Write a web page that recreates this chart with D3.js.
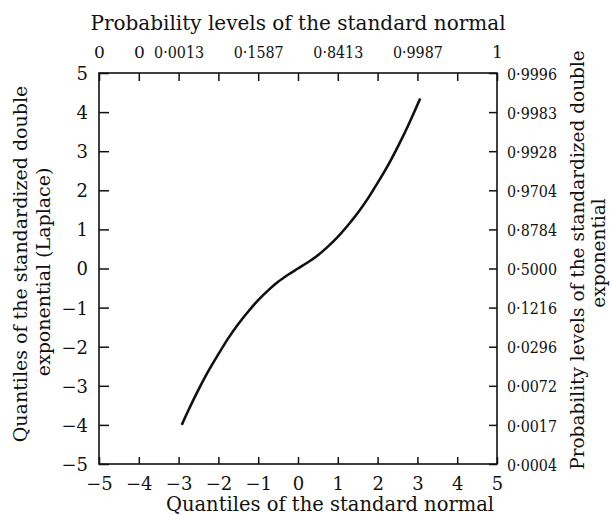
<!DOCTYPE html>
<html lang="en">
<head>
<meta charset="UTF-8">
<script src="https://cdn.jsdelivr.net/npm/d3@7/dist/d3.min.js"></script>
<style>
  body { margin: 0; background: #fff; }
</style>
</head>
<body>
<div id="chart"></div>
<script>
// quantiles
var normQ = [-2.92, -2.75, -2.5, -2.25, -2, -1.75, -1.5, -1.25, -1, -0.75, -0.5, -0.25, 0,
             0.25, 0.5, 0.75, 1, 1.25, 1.5, 1.75, 2, 2.25, 2.5, 2.75, 3.07];
var laplaceQ = [-4.00, -3.62, -3.10, -2.62, -2.19, -1.78, -1.42, -1.10, -0.81, -0.56, -0.34, -0.16, 0,
                0.16, 0.34, 0.56, 0.81, 1.10, 1.42, 1.78, 2.19, 2.62, 3.10, 3.62, 4.35];

var intTicks = d3.range(-5, 6);
var topTickVals = [-5, -4, -3, -1, 1, 3, 5];
var topTickLabels = ["0", "0", "0·0013", "0·1587", "0·8413", "0·9987", "1"];
var rightTickLabels = ["0·0004", "0·0017", "0·0072", "0·0296", "0·1216", "0·5000",
                       "0·8784", "0·9704", "0·9928", "0·9983", "0·9996"];

var width = 610, height = 515;
var margin = {left: 99, right: 113, top: 73, bottom: 51};
var serif = '"DejaVu Serif", serif';

var svg = d3.select('#chart').append('svg').attr('width', width).attr('height', height);

var x = d3.scaleLinear().domain([-5, 5]).range([margin.left, width - margin.right]);
var y = d3.scaleLinear().domain([-5, 5]).range([height - margin.bottom, margin.top]);

function minus(d) { return d < 0 ? '\u2212' + Math.abs(d) : '' + d; }

// bottom
var gb = svg.append('g').attr('transform', 'translate(0,' + y(-5) + ')')
  .call(d3.axisBottom(x).tickValues(intTicks).tickSize(-7).tickPadding(13).tickFormat(minus));
// left
var gl = svg.append('g').attr('transform', 'translate(' + x(-5) + ',0)')
  .call(d3.axisLeft(y).tickValues(intTicks).tickSize(-10).tickPadding(11).tickFormat(minus));
// top ticks
var gt = svg.append('g').attr('transform', 'translate(0,' + y(5) + ')')
  .call(d3.axisTop(x).tickValues(intTicks).tickSize(-8).tickFormat(''));
var gtl = svg.append('g').attr('transform', 'translate(0,' + y(5) + ')')
  .call(d3.axisTop(x).tickValues(topTickVals).tickSize(0).tickPadding(15)
    .tickFormat(function(d, i) { return topTickLabels[i]; }));
// right
var gr = svg.append('g').attr('transform', 'translate(' + x(5) + ',0)')
  .call(d3.axisRight(y).tickValues(intTicks).tickSize(-8).tickPadding(10)
    .tickFormat(function(d, i) { return rightTickLabels[i]; }));

[gb, gl, gt, gtl, gr].forEach(function(g) {
  g.attr('font-family', null);
  g.select('.domain').remove();
  g.selectAll('line').attr('stroke', '#111').attr('stroke-width', 1.5);
  g.selectAll('text').style('fill', '#111').style('font-family', serif);
});
gb.selectAll('text').style('font-size', '18px');
gl.selectAll('text').style('font-size', '18px').attr('dy', '0.36em');
// probability labels: narrower figures, squeeze to the printed width
[gtl, gr].forEach(function(g) {
  g.selectAll('text').style('font-size', '17px')
    .filter(function() { return this.textContent.length > 2; })
    .attr('textLength', 50).attr('lengthAdjust', 'spacingAndGlyphs');
});
gr.selectAll('text').attr('dy', '0.36em');

svg.append('rect')
  .attr('x', x(-5)).attr('y', y(5))
  .attr('width', x(5) - x(-5)).attr('height', y(-5) - y(5))
  .attr('fill', 'none').attr('stroke', '#111').attr('stroke-width', 1.6);

// curve
var line = d3.line()
  .x(function(d, i) { return x(normQ[i]); })
  .y(function(d) { return y(d); })
  .curve(d3.curveCatmullRom);
svg.append('path').datum(laplaceQ)
  .attr('d', line)
  .attr('fill', 'none').attr('stroke', '#111').attr('stroke-width', 2.6);

// titles
function title(tr, size, txt) {
  svg.append('text').attr('transform', tr).attr('text-anchor', 'middle')
    .style('font-family', serif).style('font-size', size).style('fill', '#111').text(txt);
}
title('translate(' + x(0) + ',30)', '20px', 'Probability levels of the standard normal');
title('translate(330,511)', '19.5px', 'Quantiles of the standard normal');
title('translate(27,264) rotate(-90)', '19px', 'Quantiles of the standardized double');
title('translate(50,272) rotate(-90)', '19px', 'exponential (Laplace)');
title('translate(584,260) rotate(-90)', '18.5px', 'Probability levels of the standardized double');
title('translate(605,253) rotate(-90)', '18.5px', 'exponential');
</script>
</body>
</html>
